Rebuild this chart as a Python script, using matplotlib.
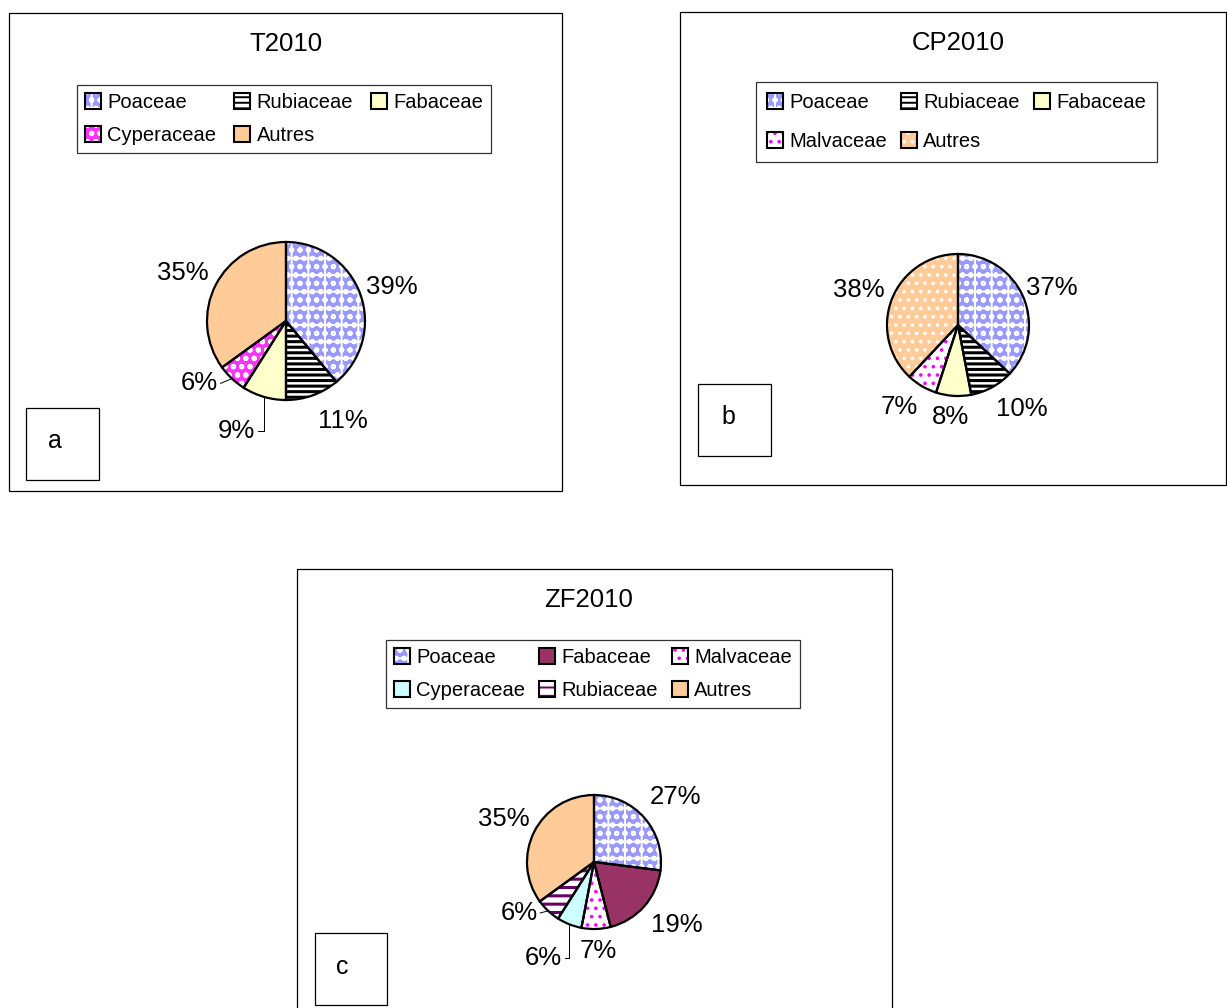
import numpy as np
import matplotlib.pyplot as plt
from matplotlib.patches import Rectangle, Patch

plt.rcParams['font.family'] = ['Liberation Sans', 'DejaVu Sans']
plt.rcParams['hatch.linewidth'] = 1.4

# --- data ---
t_names = ["Poaceae", "Rubiaceae", "Fabaceae", "Cyperaceae", "Autres"]
t_values = [39, 11, 9, 6, 35]
cp_names = ["Poaceae", "Rubiaceae", "Fabaceae", "Malvaceae", "Autres"]
cp_values = [37, 10, 8, 7, 38]
zf_names = ["Poaceae", "Fabaceae", "Malvaceae", "Cyperaceae", "Rubiaceae", "Autres"]
zf_values = [27, 19, 7, 6, 6, 35]

# fill per family: (face, hatch, hatch colour)
t_style = {
    "Poaceae": ("#9999ff", "+oo", "white"),
    "Rubiaceae": ("white", "---", "black"),
    "Fabaceae": ("#ffffcc", None, None),
    "Cyperaceae": ("#ff33ff", "oo", "white"),
    "Autres": ("#ffcc99", None, None),
}
cp_style = dict(t_style)
cp_style["Malvaceae"] = ("white", "..", "#ff00ff")
cp_style["Autres"] = ("#ffcc99", "..", "white")
zf_style = {
    "Poaceae": ("#9999ff", "+oo", "white"),
    "Fabaceae": ("#993366", None, None),
    "Malvaceae": ("white", "..", "#ff00ff"),
    "Cyperaceae": ("#ccffff", None, None),
    "Rubiaceae": ("white", "--", "#660066"),
    "Autres": ("#ffcc99", None, None),
}

W, H = 1227, 1008
fig = plt.figure(figsize=(W / 100, H / 100), dpi=100)
ax = fig.add_axes([0, 0, 1, 1])


def box(x0, y0, x1, y1, lw=0.9):
    ax.add_patch(Rectangle((x0, H - y1), x1 - x0, y1 - y0, fill=False,
                           edgecolor="black", lw=lw))


def draw_pie(values, names, style, cx, cy, r, dists, shifts, leaders):
    c = (cx, H - cy)
    wedges, _ = ax.pie(values, center=c, radius=r, startangle=90,
                       counterclock=False, frame=True,
                       colors=[style[n][0] for n in names],
                       wedgeprops=dict(linewidth=0))
    for w, n in zip(wedges, names):
        face, hatch, hc = style[n]
        if hatch:
            w.set_hatch(hatch)
            w.set_edgecolor(hc)
            if n == "Rubiaceae" and hasattr(w, "set_hatch_linewidth"):
                w.set_hatch_linewidth(2.2)
        else:
            w.set_edgecolor(face)
    ax.pie(values, center=c, radius=r, startangle=90, counterclock=False,
           frame=True, colors=["none"] * len(values),
           wedgeprops=dict(fill=False, edgecolor="black", linewidth=1.6))
    for w, v, d, s, ld in zip(wedges, values, dists, shifts, leaders):
        mid = np.radians((w.theta1 + w.theta2) / 2)
        ang = mid + np.radians(s)
        lx, ly = c[0] + d * r * np.cos(ang), c[1] + d * r * np.sin(ang)
        ax.text(lx, ly, f"{v}%", ha="center", va="center", fontsize=18.5)
        if ld:
            ex, ey = c[0] + r * np.cos(mid), c[1] + r * np.sin(mid)
            rx = lx + 21
            if ld == "elbow":
                ax.plot([rx, ex, ex], [ly, ly, ey], color="black", lw=0.7)
            else:
                ax.plot([rx, ex], [ly, ey], color="black", lw=0.7)


def legend(names, style, x0, y0, **kw):
    n = len(names)
    order = [i for col in range(3) for i in range(col, n, 3)]
    handles = []
    for i in order:
        face, hatch, hc = style[names[i]]
        handles.append((Patch(facecolor=face, hatch=hatch, edgecolor=hc or face, lw=0),
                        Patch(fill=False, edgecolor="black", lw=1.5)))
    leg = fig.legend(handles, [names[i] for i in order], loc="upper left",
                     bbox_to_anchor=(x0 / W, 1 - y0 / H), ncol=3, fontsize=14.5,
                     frameon=True, fancybox=False, edgecolor="black",
                     borderaxespad=0, handlelength=0.8, handleheight=0.8,
                     handletextpad=0.3, **kw)
    leg.get_frame().set_linewidth(0.9)
    return leg


# panel a
box(9, 13, 562, 491)
box(26, 408, 99, 480)
ax.text(55, H - 441, "a", ha="center", va="center", fontsize=18)
ax.text(286, H - 44, "T2010", ha="center", va="center", fontsize=18.5)
draw_pie(t_values, t_names, t_style, 286, 321, 79,
         [1.41, 1.46, 1.52, 1.35, 1.44], [-2, 10, -8, -11, 2],
         [None, None, "elbow", "line", None])
legend(t_names, t_style, 77, 85, borderpad=0.4, labelspacing=0.7,
       columnspacing=0.9)

# panel b
box(680, 12, 1226, 485)
box(698, 384, 771, 456)
ax.text(728, H - 417, "b", ha="center", va="center", fontsize=18)
ax.text(958, H - 43, "CP2010", ha="center", va="center", fontsize=18.5)
draw_pie(cp_values, cp_names, cp_style, 958, 325, 71,
         [1.42, 1.49, 1.30, 1.42, 1.48], [-2, 8.5, -1, -5, 2],
         [None] * 5)
legend(cp_names, cp_style, 756, 82, borderpad=0.55, labelspacing=0.98,
       columnspacing=0.7)

# panel c
box(297, 569, 892, 1020)
box(315, 933, 387, 1005)
ax.text(342, H - 967, "c", ha="center", va="center", fontsize=18)
ax.text(589, H - 600, "ZF2010", ha="center", va="center", fontsize=18.5)
draw_pie(zf_values, zf_names, zf_style, 594, 862, 67,
         [1.55, 1.56, 1.33, 1.62, 1.35, 1.49], [-3, 4, 1, -6, -12.5, 1.5],
         [None, None, None, "elbow", "line", None])
legend(zf_names, zf_style, 386, 640, borderpad=0.4, labelspacing=0.7,
       columnspacing=0.7)

ax.set_xlim(0, W)
ax.set_ylim(0, H)
ax.set_axis_off()
fig.savefig("out.png", dpi=100)
